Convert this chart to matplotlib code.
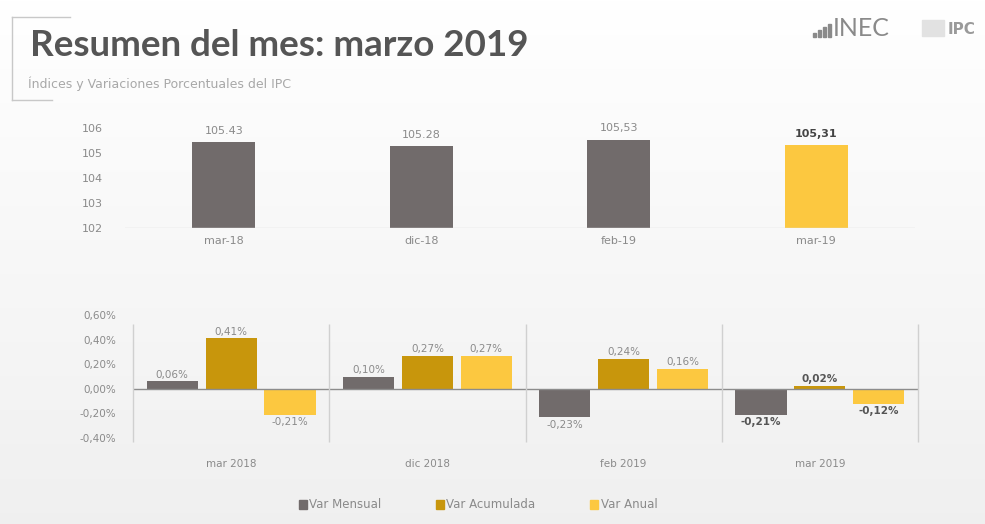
import numpy as np
import matplotlib.pyplot as plt
from matplotlib.patches import Rectangle
from matplotlib.lines import Line2D

# Índices del IPC
meses = ["mar-18", "dic-18", "feb-19", "mar-19"]
indices = [105.43, 105.28, 105.53, 105.31]
indices_txt = ["105.43", "105.28", "105,53", "105,31"]

# Variaciones porcentuales (%)
periodos = ["mar 2018", "dic 2018", "feb 2019", "mar 2019"]
var_mensual = [0.06, 0.10, -0.23, -0.21]
var_acumulada = [0.41, 0.27, 0.24, 0.02]
var_anual = [-0.21, 0.27, 0.16, -0.12]
yticks_var = [0.6, 0.4, 0.2, 0.0, -0.2, -0.4]

gris = "#716b6b"
dorado = "#c8960c"
amarillo = "#fcc840"
texto = "#8a8a8a"

plt.rcParams['font.family'] = ['DejaVu Sans']

fig = plt.figure(figsize=(9.85, 5.24), dpi=100)

# fondo con un leve degradado gris hacia abajo
bg = fig.add_axes([0, 0, 1, 1], zorder=-5)
grad = np.linspace(1.0, 0.94, 256).reshape(-1, 1)
bg.imshow(np.dstack([grad, grad, grad]), aspect="auto", extent=[0, 1, 0, 1])
bg.axis("off")

# marco del título
W, H = 985, 524
def fx(x): return x / W
def fy(y): return 1 - y / H
for xs, ys in [([12, 12], [17, 100]), ([12, 70], [17, 17]), ([12, 52], [100, 100])]:
    fig.add_artist(Line2D([fx(v) for v in xs], [fy(v) for v in ys], color="#c8c8c8", lw=1))

fig.text(fx(30), fy(46), "Resumen del mes: marzo 2019", fontsize=26.5, fontweight="bold",
         color="#555555", va="center", family="Lato")
fig.text(fx(28), fy(84), "Índices y Variaciones Porcentuales del IPC", fontsize=9,
         color="#a8a8a8", va="center")

# logo
for i, h in enumerate([4, 7, 10, 13]):
    fig.add_artist(Rectangle((fx(813 + i * 5), fy(37)), fx(3), h / H, color="#8a8a8a"))
fig.text(fx(833), fy(28), "INEC", fontsize=18, color="#8a8a8a", va="center", family="Lato")
fig.add_artist(Rectangle((fx(922), fy(36)), fx(22), 16 / H, color="#e2e2e2"))
fig.text(fx(948), fy(29), "IPC", fontsize=11, color="#9a9a9a", va="center", fontweight="bold")

# gráfico superior: índices
ax1 = fig.add_axes([fx(125), fy(228), fx(790), 100 / H])
x = np.arange(len(meses))
colores = [gris, gris, gris, amarillo]
ax1.bar(x, [v - 102 for v in indices], bottom=102, width=0.32, color=colores)
for i, (v, t) in enumerate(zip(indices, indices_txt)):
    ax1.text(i, v + 0.25, t, ha="center", va="bottom", fontsize=8,
             color="#444444" if i == 3 else texto, fontweight="bold" if i == 3 else "normal")
ax1.set_xlim(-0.5, 3.5)
ax1.set_ylim(102, 106)
ax1.set_yticks([102, 103, 104, 105, 106])
ax1.set_xticks(x)
ax1.set_xticklabels(meses)
ax1.tick_params(length=0, labelsize=8, colors=texto)
ax1.tick_params(axis="x", pad=6)
ax1.tick_params(axis="y", pad=16)
for s in ax1.spines.values():
    s.set_visible(False)
ax1.axhline(102, color="#dddddd", lw=1)
ax1.patch.set_alpha(0)

# gráfico inferior: variaciones
ax2 = fig.add_axes([fx(133), fy(438), fx(785), 123 / H])
g = np.arange(len(periodos))
series = [var_mensual, var_acumulada, var_anual]
cols = [gris, dorado, amarillo]
offs = [-0.3, 0, 0.3]
for serie, c, o in zip(series, cols, offs):
    ax2.bar(g + o, serie, width=0.26, color=c)
    for i, v in enumerate(serie):
        lbl = f"{v:.2f}%".replace(".", ",")
        bold = i == 3
        ax2.text(i + o, v + (0.015 if v >= 0 else -0.02), lbl, ha="center",
                 va="bottom" if v >= 0 else "top", fontsize=7.5,
                 color="#555555" if bold else texto, fontweight="bold" if bold else "normal")
ax2.axhline(0, color="#8c8c8c", lw=1)
ax2.vlines(np.arange(-0.5, 4.0, 1.0), -0.43, 0.53, color="#d0d0d0", lw=1, clip_on=False)
ax2.set_xlim(-0.5, 3.5)
ax2.set_ylim(-0.4, 0.6)
ax2.set_yticks(yticks_var)
ax2.set_yticklabels([f"{v:.2f}%".replace(".", ",") for v in yticks_var])
ax2.set_xticks(g)
ax2.set_xticklabels(periodos)
ax2.tick_params(length=0, labelsize=7.5, colors=texto)
ax2.tick_params(axis="x", pad=15)
ax2.tick_params(axis="y", pad=12)
for s in ax2.spines.values():
    s.set_visible(False)
ax2.patch.set_alpha(0)

handles = [Rectangle((0, 0), 1, 1, color=c) for c in cols]
fig.legend(handles, ["Var Mensual", "Var Acumulada", "Var Anual"], loc="center",
           bbox_to_anchor=(fx(478), fy(505)), ncol=3, frameon=False, fontsize=8.5,
           handlelength=0.7, handleheight=0.7, handletextpad=0.2, columnspacing=4.6,
           labelcolor=texto)

fig.savefig("out.png", dpi=100)
